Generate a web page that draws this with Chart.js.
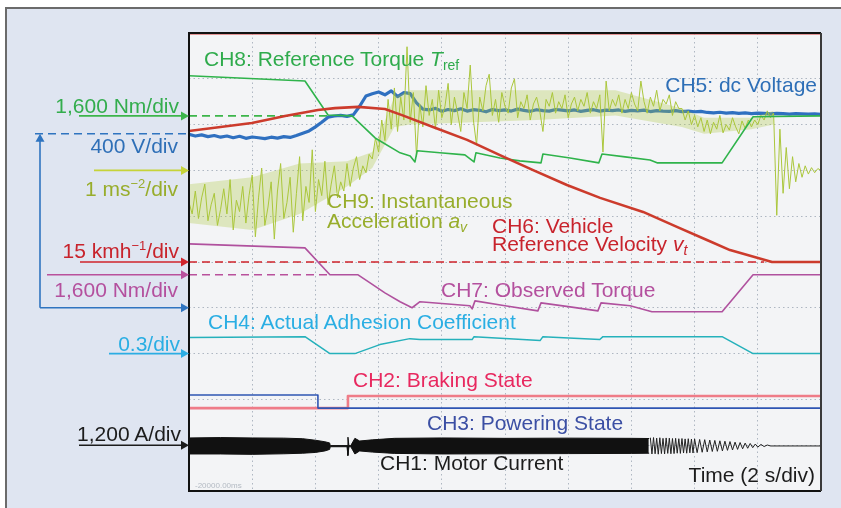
<!DOCTYPE html>
<html><head><meta charset="utf-8">
<script src="https://cdn.jsdelivr.net/npm/chart.js@4.4.1/dist/chart.umd.min.js"></script>
<style>
html,body{margin:0;padding:0;background:#fff;}
#wrap{position:relative;width:841px;height:508px;overflow:hidden;font-family:"Liberation Sans",Arial,Helvetica,sans-serif;}
canvas{position:absolute;left:0;top:0;}
.lb{position:absolute;font-size:21px;line-height:21px;white-space:nowrap;}
.r{text-align:right;}
.sup{font-size:13px;position:relative;top:-8px;}
.sub{font-size:14px;position:relative;top:4px;}
.tiny{position:absolute;font-size:8px;line-height:8px;color:#b3bac3;white-space:nowrap;}
</style></head><body>
<div id="wrap">
<canvas id="c" width="841" height="508"></canvas>
<div class="lb r" style="right:662px;top:95px;color:#33ad4d">1,600 Nm/div</div>
<div class="lb r" style="right:663px;top:135px;color:#2e6fb7">400 V/div</div>
<div class="lb r" style="right:663px;top:178px;color:#98ad2c">1 ms<span class="sup">−2</span>/div</div>
<div class="lb r" style="right:662px;top:240px;color:#c8232c">15 kmh<span class="sup">−1</span>/div</div>
<div class="lb r" style="right:663px;top:279px;color:#b4509e">1,600 Nm/div</div>
<div class="lb r" style="right:661px;top:333px;color:#2aaee3">0.3/div</div>
<div class="lb r" style="right:660px;top:423px;color:#1c1c1c">1,200 A/div</div>

<div class="lb" style="left:204px;top:48px;color:#2fab4c">CH8: Reference Torque <i>T</i><span class="sub">ref</span></div>
<div class="lb r" style="right:24px;top:74px;color:#2e6fb7">CH5: dc Voltage</div>
<div class="lb" style="left:327px;top:190px;color:#98ad2c">CH9: Instantaneous</div>
<div class="lb" style="left:327px;top:210px;color:#98ad2c">Acceleration <i>a</i><span class="sub"><i>v</i></span></div>
<div class="lb" style="left:492px;top:215px;color:#c8232c">CH6: Vehicle</div>
<div class="lb" style="left:492px;top:233px;color:#c8232c">Reference Velocity <i>v</i><span class="sub"><i>t</i></span></div>
<div class="lb" style="left:441px;top:279px;color:#b4509e">CH7: Observed Torque</div>
<div class="lb" style="left:208px;top:311px;color:#2aaee3">CH4: Actual Adhesion Coefficient</div>
<div class="lb" style="left:353px;top:369px;color:#e8285f">CH2: Braking State</div>
<div class="lb" style="left:427px;top:412px;color:#3b4fa4">CH3: Powering State</div>
<div class="lb" style="left:380px;top:452px;color:#1c1c1c">CH1: Motor Current</div>
<div class="lb r" style="right:26px;top:464px;color:#1c1c1c">Time (2 s/div)</div>
<div class="tiny" style="left:195px;top:482px">-20000.00ms</div>
</div>
<script>
// ---- time axis: 10 div x 2 s ----
const timeTicks = [0, 20, 2];           // min, max, step (s)
const divTicks = [0, 10, 1];            // vertical divisions

// channel zero level (div from bottom) and units per division
const ZERO = {ch1:1.0, ch2:1.81, ch3:1.81, ch4:3.0, ch5:4.0, ch6:5.0, ch7:4.72, ch8:8.19, ch9:7.0};
const PER_DIV = {ch1:1200, ch2:3.8, ch3:3.5, ch4:0.3, ch5:400, ch6:15, ch7:1600, ch8:1600, ch9:1};

// CH8 reference torque (Nm)
const ch8T = [0, 3.67, 4.40, 5.16, 5.89, 6.68, 7.00, 7.15, 7.22, 7.94, 8.73, 9.02, 9.08, 9.84, 10.47, 11.14, 11.20, 12.06, 12.97, 13.07, 13.80, 14.59, 14.81, 16.87, 17.85, 20];
const ch8V = [1400, 1220, 30, 0, -770, -1290, -1400, -1610, -1220, -1290, -1360, -1610, -1290, -1470, -1570, -1640, -1330, -1470, -1640, -1330, -1430, -1540, -1640, -1640, -30, 0];

// CH7 observed torque (Nm)
const ch7T = [0, 3.67, 4.46, 5.35, 5.73, 6.20, 6.68, 7.06, 7.31, 8.89, 8.96, 9.05, 10.0, 11.04, 11.14, 12.06, 12.94, 13.04, 13.96, 14.65, 16.87, 17.85, 20];
const ch7V = [1080, 940, 0, 0, -280, -630, -940, -1150, -940, -1080, -1190, -910, -1080, -1260, -980, -1120, -1260, -980, -1080, -1290, -1290, 0, 0];

// CH4 adhesion coefficient
const ch4T = [0, 3.67, 4.46, 5.25, 6.04, 6.99, 7.31, 8.96, 9.02, 11.11, 11.20, 13.00, 13.10, 14.68, 16.87, 17.85, 20];
const ch4V = [0.105, 0.111, 0, 0, 0.059, 0.098, 0.092, 0.092, 0.111, 0.085, 0.111, 0.092, 0.111, 0.111, 0.111, 0, 0];

// CH6 vehicle reference velocity (km/h)
const ch6T = [0, 1.99, 3.04, 4.08, 4.62, 5.35, 6.20, 6.74, 7.72, 8.80, 9.84, 10.89, 11.96, 13.01, 14.37, 15.44, 16.39, 17.12, 18.45, 20];
const ch6V = [42.9, 45.5, 47.8, 49.8, 50.4, 50.8, 50.1, 48.1, 44.2, 40.0, 35.0, 30.1, 25.2, 21.0, 16.4, 11.5, 7.2, 3.9, 0, 0];

// CH5 dc voltage (V), sampled every 0.2 s
const ch5Step = 0.2;
const ch5V = [1515, 1500, 1510, 1495, 1505, 1490, 1500, 1485, 1498, 1480, 1492, 1485, 1478, 1490, 1482, 1495, 1488, 1505,
  1525, 1545, 1580, 1620, 1665,
  1675, 1680, 1672, 1685,
  1760, 1850, 1870,
  1885, 1860, 1895, 1845, 1880, 1870,
  1790, 1735,
  1728, 1742, 1716, 1732, 1722, 1738, 1718, 1730, 1725, 1712, 1732, 1722, 1728, 1718, 1735, 1724, 1716, 1730, 1722, 1718,
  1732, 1726, 1720, 1728, 1716, 1724, 1730, 1718, 1726, 1722, 1728, 1716, 1724, 1720, 1726, 1714, 1722, 1718, 1716, 1722,
  1714, 1718, 1712, 1716,
  1706, 1702, 1708, 1700, 1704, 1698, 1702, 1696, 1700, 1698, 1694, 1698, 1696, 1692, 1696, 1694, 1692, 1694, 1690];
const ch5Ref = 1520;   // dashed level marker (V)

// CH9 instantaneous acceleration (m/s^2), sampled every 0.1 s
const ch9Step = 0.1;
const ch9V = [
 -0.70,-0.95,-0.45,-1.05,-0.60,-0.30,-1.10,-0.75,-0.50,-1.20,
 -0.85,-0.40,-0.95,-0.20,-1.30,-0.65,-0.90,-0.35,-1.15,-0.55,
 -0.10,-1.45,-0.60,0.05,-1.20,-0.80,-0.25,-1.50,-0.45,0.15,-1.05,-0.70,-0.15,-1.35,-0.50,
 0.30,-1.10,-0.35,-0.70,0.45,-0.90,-0.20,-0.55,0.20,-0.75,-0.30,0.10,-0.60,-0.25,-0.45,
 0.15,-0.35,0.05,0.30,-0.20,0.10,-0.05,0.35,
 0.25,0.70,0.40,1.10,0.65,1.55,0.90,
 1.80,0.85,1.60,1.10,2.70,
 1.05,1.70,0.30,1.45,0.95,1.85,1.20,1.55,0.90,1.75,
 1.15,1.40,1.90,1.00,1.60,1.25,0.85,1.70,1.35,2.30,
 1.10,0.55,1.60,1.30,1.85,2.10,1.20,1.55,1.05,1.70,
 1.40,1.25,1.80,2.00,1.15,1.50,1.35,1.65,1.10,1.45,
 1.60,1.30,0.85,1.55,1.40,1.70,1.25,1.50,1.35,1.65,
 1.15,1.45,1.60,1.30,1.55,1.40,1.70,1.25,1.50,1.35,
 1.65,0.40,1.95,1.30,1.55,
 1.40,1.65,1.25,1.55,1.35,1.70,1.45,1.30,1.95,1.50,
 1.25,1.60,1.40,1.75,1.30,1.55,1.45,1.65,1.20,1.50,1.35,
 1.35,1.10,1.30,1.00,1.20,0.95,1.15,
 0.85,1.10,0.80,1.05,0.90,1.20,0.82,1.00,0.88,1.15,0.95,0.80,1.08,0.92,1.10,
 0.95,1.10,1.00,1.20,1.10,1.30,1.15,1.25,
 -0.98,0.90,-0.50,0.50,-0.40,0.30,-0.25,0.15,-0.15,0.10,-0.08,0.06,-0.05,0.04,0.00];
// CH9 dense-noise envelope (m/s^2)
const ch9EnvT = [0, 2.0, 3.5, 5.0, 5.8, 6.5, 7.0, 11.0, 13.5, 15.6, 16.3, 17.8, 18.5];
const ch9Hi = [-0.30, -0.15, 0.15, 0.20, 0.40, 1.60, 1.75, 1.75, 1.75, 1.35, 1.15, 1.15, 1.30];
const ch9Lo = [-1.15, -1.30, -0.95, -0.35, 0.05, 0.95, 1.00, 1.10, 1.20, 0.95, 0.80, 0.90, 1.00];

// CH2 braking state / CH3 powering state (0/1)
const ch2T = [0, 5.03, 5.03, 20];
const ch2V = [0, 0, 1, 1];
const ch3T = [0, 4.08, 4.08, 20];
const ch3V = [1, 1, 0, 0];

// CH1 motor current (A): envelope of the PWM band, then decaying tail
const ch1EnvT = [0, 1, 2, 3, 3.6, 4.0, 4.3, 4.45, 4.47, 5.00, 5.03, 5.06, 5.12, 5.25, 5.40, 5.8, 6.5, 8, 10, 12, 14.0, 14.55];
const ch1Up = [190, 200, 190, 185, 170, 130, 90, 60, -10, -10, 210, -10, -10, 180, 110, 140, 180, 190, 180, 185, 180, 175];
const ch1Lo = [-230, -230, -240, -225, -210, -190, -150, -110, -40, -40, -270, -40, -40, -230, -150, -180, -215, -230, -225, -220, -215, -210];
const ch1TailT = [14.60,14.65,14.70,14.75,14.80,14.85,14.90,14.95,15.00,15.05,15.10,15.15,15.20,15.25,15.30,15.35,15.40,15.45,15.50,15.55,15.60,15.65,15.70,15.75,15.80,15.85,15.90,15.95,16.00,
  16.08,16.16,16.24,16.32,16.40,16.48,16.56,16.64,16.72,16.80,16.88,16.96,17.04,17.12,17.20,17.28,17.36,17.44,17.52,17.60,17.68,17.76,17.84,17.92,18.00,
  18.10,18.20,18.30,18.40,20.0];
const ch1TailI = [190,-230,200,-225,185,-235,195,-220,180,-230,190,-215,185,-225,175,-220,180,-210,170,-215,175,-205,165,-210,170,-200,160,-205,165,
  -195,150,-185,145,-175,135,-165,125,-160,115,-150,105,-135,95,-125,80,-110,70,-95,55,-80,45,-65,30,-50,
  20,-35,5,-20,-20];

function pts(ts, vs, ch){ return ts.map((t,i)=>({x:t, y:ZERO[ch] + vs[i]/PER_DIV[ch]})); }
function sampled(step, vs, ch){ return vs.map((v,i)=>({x:+(i*step).toFixed(3), y:ZERO[ch] + v/PER_DIV[ch]})); }

function line(label, data, color, w, order, extra){
  return Object.assign({label, data, borderColor:color, backgroundColor:color, borderWidth:w, pointRadius:0,
    tension:0, fill:false, order, borderJoinStyle:'round', borderCapStyle:'round'}, extra||{});
}

const datasets = [
  line('CH1 upper', pts(ch1EnvT, ch1Up, 'ch1'), '#111', 1, 1, {fill:{target:'+1'}, backgroundColor:'#111'}),
  line('CH1 lower', pts(ch1EnvT, ch1Lo, 'ch1'), '#111', 1, 1),
  line('CH1 tail', pts(ch1TailT, ch1TailI, 'ch1'), '#222', 1, 1, {borderJoinStyle:'miter'}),
  line('CH3', pts(ch3T, ch3V, 'ch3'), '#2f55b3', 1.6, 2),
  line('CH2', pts(ch2T, ch2V, 'ch2'), '#ef7c88', 2.6, 3),
  line('CH4', pts(ch4T, ch4V, 'ch4'), '#25b1bb', 1.5, 4),
  line('CH7', pts(ch7T, ch7V, 'ch7'), '#b0519e', 1.6, 5),
  line('CH6', pts(ch6T, ch6V, 'ch6'), '#cc3b2c', 2.6, 6),
  line('CH8', pts(ch8T, ch8V, 'ch8'), '#2fb34b', 1.6, 7),
  line('CH9', sampled(ch9Step, ch9V, 'ch9'), '#abc73b', 1, 7.5, {borderJoinStyle:'miter'}),
  line('CH9 hi', pts(ch9EnvT, ch9Hi, 'ch9'), 'rgba(0,0,0,0)', 0, 7.6, {fill:{target:'+1'}, backgroundColor:'rgba(171,199,59,0.30)'}),
  line('CH9 lo', pts(ch9EnvT, ch9Lo, 'ch9'), 'rgba(0,0,0,0)', 0, 7.6),
  line('CH5', sampled(ch5Step, ch5V, 'ch5'), '#2f70c0', 3.2, 8)
];

function arrowRight(ctx, x0, x1, y, color){
  ctx.strokeStyle = color; ctx.fillStyle = color; ctx.lineWidth = 1.6; ctx.setLineDash([]);
  ctx.beginPath(); ctx.moveTo(x0, y); ctx.lineTo(x1 - 6, y); ctx.stroke();
  ctx.beginPath(); ctx.moveTo(x1, y); ctx.lineTo(x1 - 8, y - 4.5); ctx.lineTo(x1 - 8, y + 4.5); ctx.closePath(); ctx.fill();
}

const scopePlugin = {
  id:'scope',
  beforeDraw(chart){
    const ctx = chart.ctx, a = chart.chartArea;
    ctx.save();
    ctx.fillStyle = '#fff'; ctx.fillRect(0,0,chart.width,chart.height);
    ctx.fillStyle = '#dfe5f1'; ctx.fillRect(6,8,chart.width-6,chart.height-8);
    ctx.strokeStyle = '#6b6b6b'; ctx.lineWidth = 2;
    ctx.beginPath(); ctx.moveTo(6,chart.height); ctx.lineTo(6,8); ctx.lineTo(chart.width,8); ctx.stroke();
    ctx.fillStyle = '#f3f4f6'; ctx.fillRect(a.left,a.top,a.width,a.height);
    ctx.restore();
  },
  beforeDatasetsDraw(chart){
    const ctx = chart.ctx, xs = chart.scales.x, ys = chart.scales.y;
    ctx.save();
    ctx.lineWidth = 1.6; ctx.setLineDash([8,5]);
    const dashes = [[ZERO.ch8, 4.46, '#3cb54a'], [ZERO.ch7, 4.46, '#b9519c'], [ZERO.ch6, 18.2, '#d0232b']];
    dashes.forEach(([lv, tEnd, col])=>{
      const y = ys.getPixelForValue(lv);
      ctx.strokeStyle = col; ctx.beginPath(); ctx.moveTo(xs.getPixelForValue(0), y); ctx.lineTo(xs.getPixelForValue(tEnd), y); ctx.stroke();
    });
    ctx.restore();
  },
  afterDraw(chart){
    const ctx = chart.ctx, a = chart.chartArea, ys = chart.scales.y;
    ctx.save();
    ctx.strokeStyle = 'rgba(214,70,70,0.55)'; ctx.lineWidth = 1;
    ctx.beginPath(); ctx.moveTo(a.left, a.top + 1.5); ctx.lineTo(a.right, a.top + 1.5); ctx.stroke();
    ctx.lineWidth = 2; ctx.strokeStyle = '#111';
    ctx.beginPath(); ctx.moveTo(a.right, a.top); ctx.lineTo(a.left, a.top); ctx.lineTo(a.left, a.bottom); ctx.lineTo(a.right, a.bottom); ctx.stroke();
    ctx.strokeStyle = '#3a3a3a';
    ctx.beginPath(); ctx.moveTo(a.right, a.top); ctx.lineTo(a.right, a.bottom); ctx.stroke();
    const L = a.left;
    arrowRight(ctx, 79, L, ys.getPixelForValue(ZERO.ch8), '#3cb54a');
    arrowRight(ctx, 94, L, ys.getPixelForValue(ZERO.ch9), '#c6d339');
    arrowRight(ctx, 80, L, ys.getPixelForValue(ZERO.ch6), '#d0232b');
    arrowRight(ctx, 47, L, ys.getPixelForValue(ZERO.ch7), '#b9519c');
    arrowRight(ctx, 109, L, ys.getPixelForValue(ZERO.ch4), '#2cade3');
    arrowRight(ctx, 79, L, ys.getPixelForValue(ZERO.ch1), '#1c1c1c');
    const y0 = ys.getPixelForValue(ZERO.ch5), yr = ys.getPixelForValue(ZERO.ch5 + ch5Ref/PER_DIV.ch5);
    arrowRight(ctx, 40, L, y0, '#2f74c0');
    ctx.strokeStyle = '#2f74c0'; ctx.fillStyle = '#2f74c0'; ctx.lineWidth = 1.6;
    ctx.beginPath(); ctx.moveTo(40, y0); ctx.lineTo(40, yr + 6); ctx.stroke();
    ctx.beginPath(); ctx.moveTo(40, yr); ctx.lineTo(35.5, yr + 8); ctx.lineTo(44.5, yr + 8); ctx.closePath(); ctx.fill();
    ctx.setLineDash([8,5]);
    ctx.beginPath(); ctx.moveTo(35, yr); ctx.lineTo(L, yr); ctx.stroke();
    ctx.restore();
  }
};

new Chart(document.getElementById('c'), {
  type:'line',
  data:{datasets},
  plugins:[scopePlugin],
  options:{
    responsive:false, animation:false, events:[],
    layout:{padding:{left:189, top:33, right:20, bottom:17}},
    plugins:{legend:{display:false}, tooltip:{enabled:false}},
    scales:{
      x:{type:'linear', min:timeTicks[0], max:timeTicks[1],
         ticks:{display:false, stepSize:timeTicks[2]},
         grid:{color:'#aeb7c2', lineWidth:1, drawTicks:false},
         border:{display:false, dash:[1.5,3]}},
      y:{type:'linear', min:divTicks[0], max:divTicks[1],
         ticks:{display:false, stepSize:divTicks[2]},
         grid:{color:'#aeb7c2', lineWidth:1, drawTicks:false},
         border:{display:false, dash:[1.5,3]}}
    }
  }
});
</script>
</body></html>
